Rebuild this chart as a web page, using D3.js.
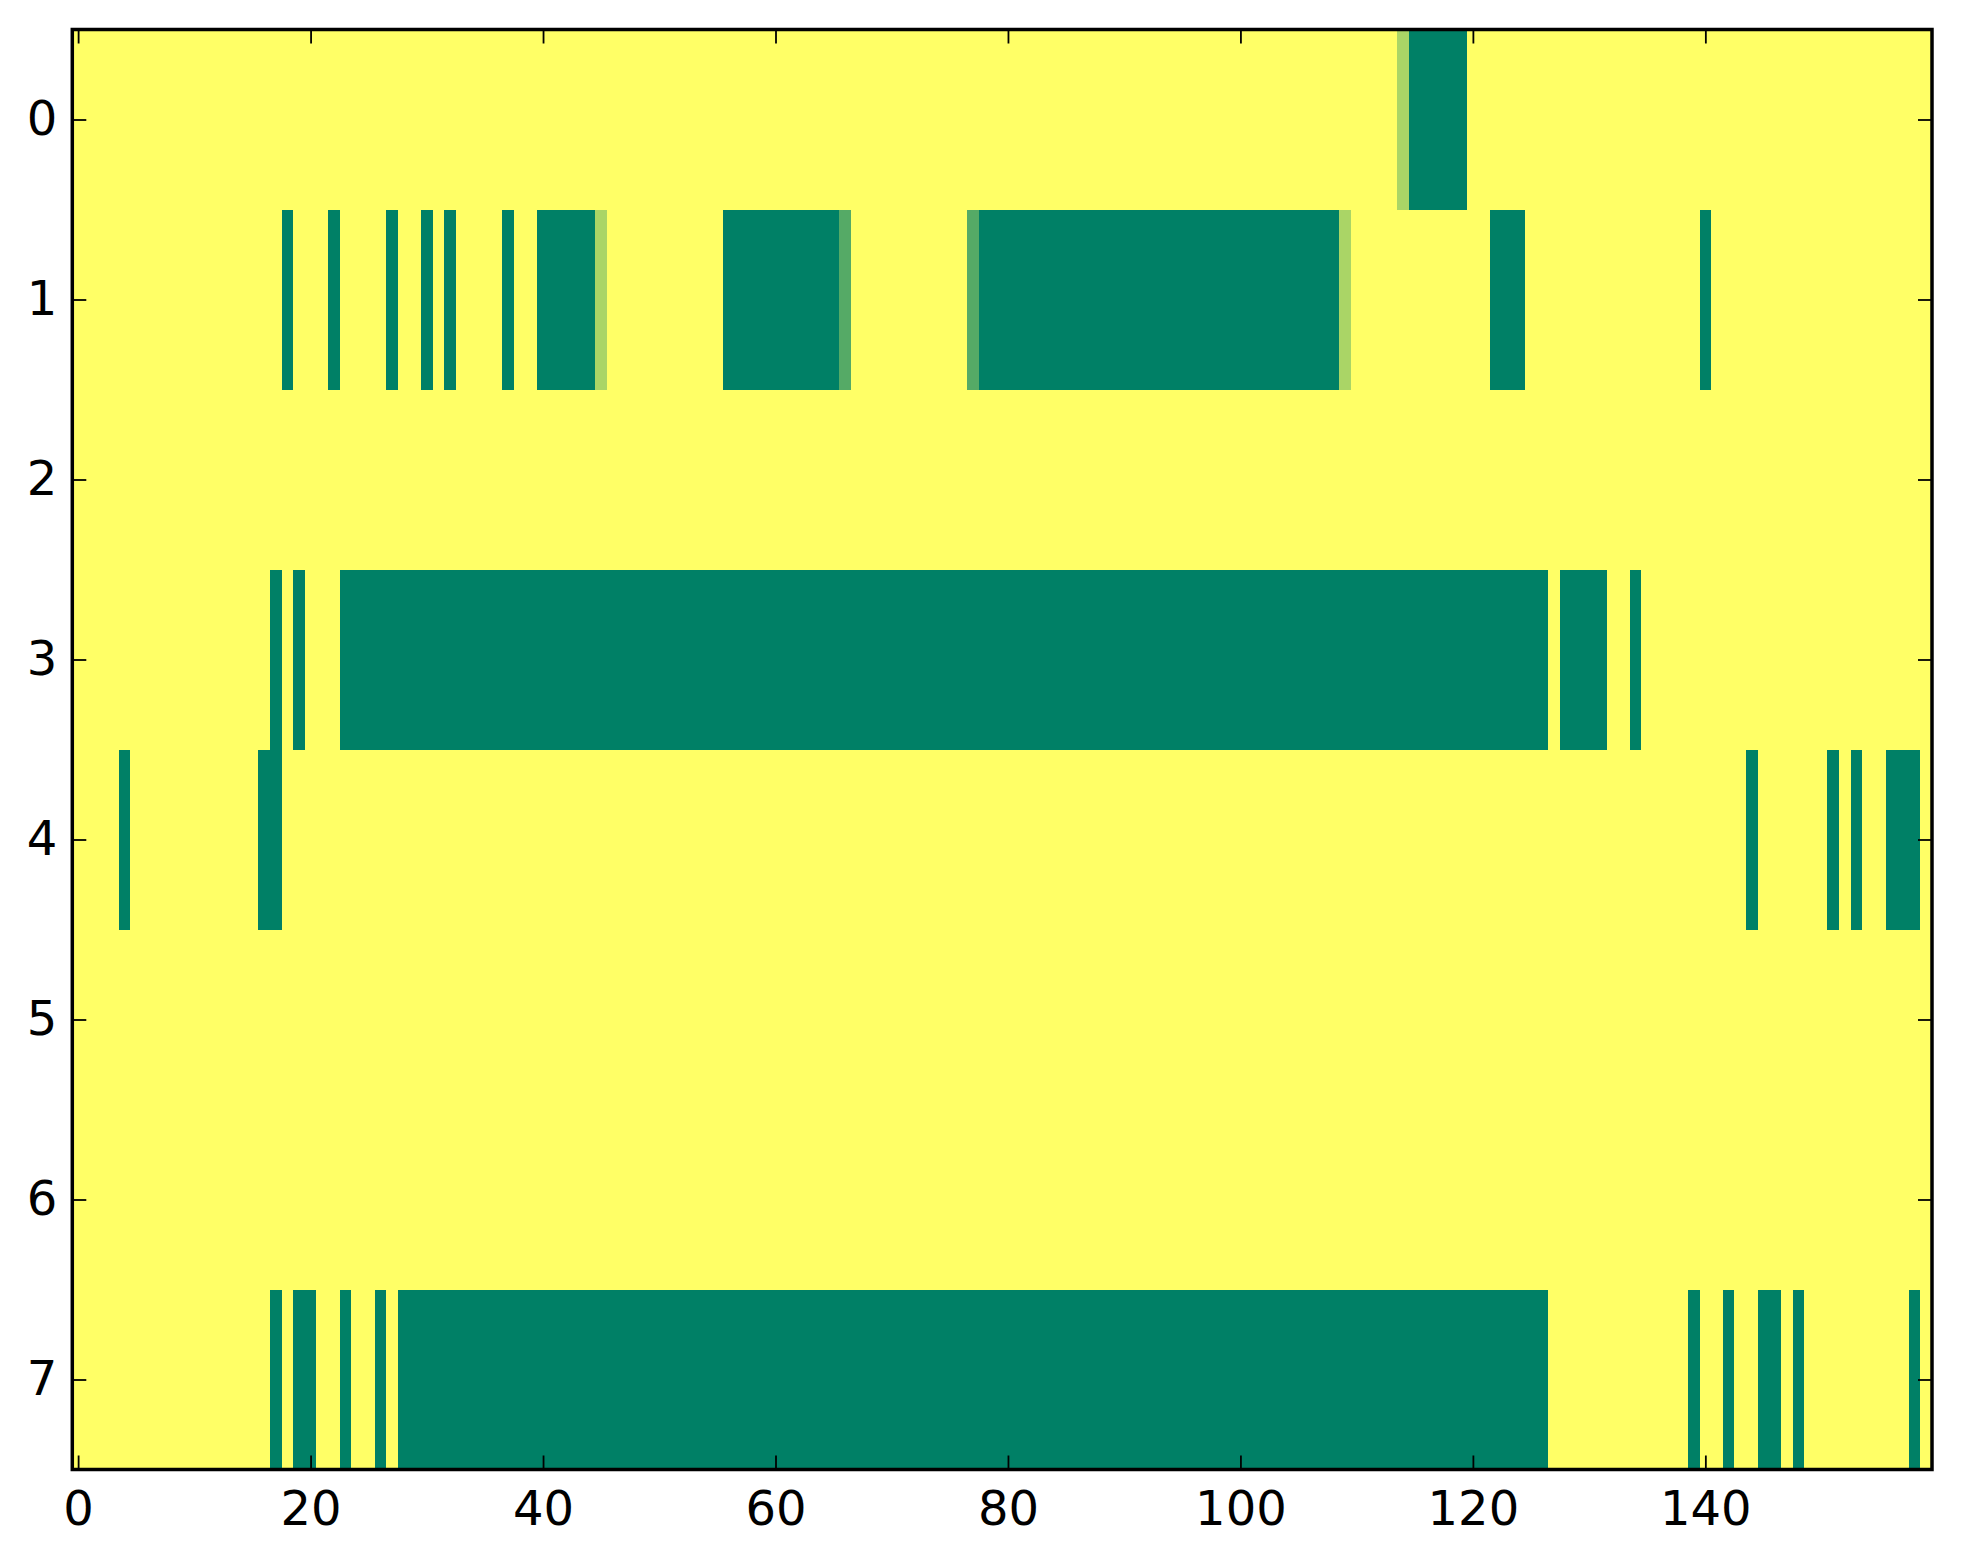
<!DOCTYPE html>
<html lang="en">
<head>
    <meta charset="UTF-8">
    <title>Heatmap</title>
    <script src="https://d3js.org/d3.v7.min.js"></script>
    <style>
        body { margin: 0; background: #fff; }
        text { font-family: "DejaVu Sans", sans-serif; }
    </style>
</head>
<body>
    <svg id="chart" width="1963" height="1564"></svg>
    <script>
        // runs of non-zero cells per row: [firstCol, lastCol, value]
        const nCols = 160;
        const rowLabels = [0, 1, 2, 3, 4, 5, 6, 7];
        const xTicks = [0, 20, 40, 60, 80, 100, 120, 140];

        const row0 = [[114, 114, 0.333], [115, 119, 1]];
        const row1 = [[18, 18, 1], [22, 22, 1], [27, 27, 1], [30, 30, 1], [32, 32, 1], [37, 37, 1],
                      [40, 44, 1], [45, 45, 0.333], [56, 65, 1], [66, 66, 0.667], [77, 77, 0.667],
                      [78, 108, 1], [109, 109, 0.333], [122, 124, 1], [140, 140, 1]];
        const row2 = [];
        const row3 = [[17, 17, 1], [19, 19, 1], [23, 126, 1], [128, 131, 1], [134, 134, 1]];
        const row4 = [[4, 4, 1], [16, 17, 1], [144, 144, 1], [151, 151, 1], [153, 153, 1], [156, 158, 1]];
        const row5 = [];
        const row6 = [];
        const row7 = [[17, 17, 1], [19, 20, 1], [23, 23, 1], [26, 26, 1], [28, 126, 1],
                      [139, 139, 1], [142, 142, 1], [145, 146, 1], [148, 148, 1], [158, 158, 1]];

        const rows = [row0, row1, row2, row3, row4, row5, row6, row7];

        // expand runs into cells
        const cells = [];
        rows.forEach((runs, r) => {
            const vals = new Array(nCols).fill(0);
            runs.forEach(([a, b, v]) => { for (let c = a; c <= b; c++) vals[c] = v; });
            vals.forEach((v, c) => cells.push({row: r, col: c, value: v}));
        });

        const svg = d3.select("#chart");
        const margin = {top: 29.5, right: 31, bottom: 94.5, left: 72.3};
        const width = +svg.attr("width") - margin.left - margin.right;
        const height = +svg.attr("height") - margin.top - margin.bottom;

        const g = svg.append("g")
            .attr("transform", `translate(${margin.left},${margin.top})`);

        const x = d3.scaleLinear().domain([-0.5, nCols - 0.5]).range([0, width]);
        const y = d3.scaleLinear().domain([-0.5, rowLabels.length - 0.5]).range([0, height]);
        // summer_r colormap
        const color = d3.scaleLinear().domain([0, 1]).range(["#ffff66", "#008066"]);

        g.selectAll("rect.cell")
            .data(cells)
            .enter()
            .append("rect")
                .attr("class", "cell")
                .attr("x", d => x(d.col - 0.5))
                .attr("y", d => y(d.row - 0.5))
                .attr("width", d => x(d.col + 0.5) - x(d.col - 0.5))
                .attr("height", d => y(d.row + 0.5) - y(d.row - 0.5))
                .attr("fill", d => color(d.value))
                .attr("shape-rendering", "crispEdges");

        const tick = 14;

        const xb = g.append("g")
            .attr("transform", `translate(0,${height})`)
            .call(d3.axisBottom(x).tickValues(xTicks).tickSizeInner(-tick).tickSizeOuter(0).tickPadding(21));
        const xt = g.append("g")
            .call(d3.axisTop(x).tickValues(xTicks).tickSizeInner(-tick).tickSizeOuter(0).tickFormat(""));
        const yl = g.append("g")
            .call(d3.axisLeft(y).tickValues(rowLabels).tickSizeInner(-tick).tickSizeOuter(0).tickPadding(15));
        const yr = g.append("g")
            .attr("transform", `translate(${width},0)`)
            .call(d3.axisRight(y).tickValues(rowLabels).tickSizeInner(-tick).tickSizeOuter(0).tickFormat(""));

        [xb, xt, yl, yr].forEach(a => {
            a.select(".domain").remove();
            a.selectAll(".tick line").attr("stroke", "#000").attr("stroke-width", 1.8);
            a.selectAll("text").attr("font-size", 48).attr("fill", "#000")
                .style("font-family", "'DejaVu Sans', sans-serif");
        });

        g.append("rect")
            .attr("x", 0)
            .attr("y", 0)
            .attr("width", width)
            .attr("height", height)
            .attr("fill", "none")
            .attr("stroke", "#000")
            .attr("stroke-width", 3.5);
    </script>
</body>
</html>
